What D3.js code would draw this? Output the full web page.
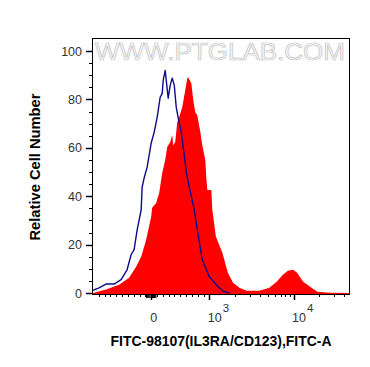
<!DOCTYPE html>
<html><head><meta charset="utf-8">
<script src="https://cdn.jsdelivr.net/npm/d3@7"></script>
<style>body{margin:0;background:#fff}svg{display:block}</style>
</head><body>
<svg id="c" width="370" height="367"></svg>
<script>
// ---- data ----
const controlFluor = [-1000,-897,-776,-638,-517,-414,-345,-293,-241,-172,-155,-121,-69,0,52,103,155,190,207,241,259,293,328,362,397,431,466,517,569,603,655,741,793,879,1000,1212,1428,1729];
const controlCount = [1.1,2.1,3.7,3.7,5.5,9.6,15.8,17.9,26.1,34.3,43.8,47.5,52,61.9,66.5,72.6,80.9,82.5,87.9,92.0,87.9,80.5,85.9,88.8,85.9,76.8,72.3,66.5,57.0,50,43.8,34.3,26.1,13.7,6.7,3.4,0.9,0];
const sampleFluor = [-1000,-776,-552,-379,-259,-172,-86,0,17,86,138,172,190,241,276,328,362,379,414,448,483,534,586,621,638,690,724,759,793,845,879,931,948,966,1056,1086,1198,1428,1660,1910,2276,2757,3929,5166,6301,7459,8578,9862,11023,12985,15753,19124,27330,45500];
const sampleCount = [0,1.4,3.4,6.3,10.8,15.0,22.0,31.5,35.2,37.2,41.3,46.7,49.6,54.9,60.3,62.4,65.3,61.1,62.4,70.6,72.7,76.8,83.8,88.7,89.1,86.7,79.7,74.7,73.5,66.5,61.1,54.9,47.5,42.6,42.6,34.3,23.2,16.6,8.4,4.2,2.2,0.9,0.9,2.2,4.7,7.5,9.2,9.6,8.4,4.7,2.6,0.5,0.1,0];
const yTickValues = [0,20,40,60,80,100];
const yMinorValues = d3.range(0, 105, 5);
const xMajorValues = [0, 1000, 10000];
const xMajorBase = ["0", "10", "10"];
const xMajorExp = ["", "3", "4"];
const xMinorValues = [-900,-800,-700,-600,-500,-400,-300,-200,-100,100,200,300,400,500,600,700,800,900,2000,3000,4000,5000,6000,7000,8000,9000,20000,30000,40000];
const xZeroCluster = [-80,-60,-40,-20,20,40,60,80];
const xDomain = [-1000, 45500];
const yDomain = [0, 100];
const xTitle = "FITC-98107(IL3RA/CD123),FITC-A";
const yTitle = "Relative Cell Number";
const watermark = "WWW.PTGLAB.COM";

// ---- layout ----
const L = 93, T = 39, R = 349, B = 294;
const font = "'Liberation Sans', Arial, sans-serif";
const svg = d3.select("#c");

// biexponential-like transform: linear within ±1000, logarithmic above
const LIN = 1000, DEC = 84/58;
const fwd = v => v <= LIN ? v / LIN : 1 + Math.log10(v / LIN) * DEC;
const xLin = d3.scaleLinear().domain(xDomain.map(fwd)).range([L, R]);
const x = v => xLin(fwd(v));
const y = d3.scaleLinear().domain(yDomain).range([293, 51]);

svg.append("defs").append("clipPath").attr("id","clip")
  .append("rect").attr("x",L).attr("y",T).attr("width",R-L).attr("height",B-T);

// watermark
svg.append("text").attr("x", 95).attr("y", 60)
  .attr("textLength", 250).attr("lengthAdjust","spacingAndGlyphs")
  .style("font-family", font).style("font-size","24px")
  .attr("fill","#f7f7f7").attr("stroke","#c4c4c4").attr("stroke-width",0.7)
  .text(watermark);

const g = svg.append("g").attr("clip-path","url(#clip)");
const sample = sampleFluor.map((f,i)=>({f, c: sampleCount[i]}));
const control = controlFluor.map((f,i)=>({f, c: controlCount[i]}));

g.append("path").datum(sample)
  .attr("d", d3.area().x(d=>x(d.f)).y0(y(0)+1).y1(d=>y(d.c)))
  .attr("fill","#ff0000");
g.append("path").datum(control)
  .attr("d", d3.line().x(d=>x(d.f)).y(d=>y(d.c)))
  .attr("fill","none").attr("stroke","#0c0c8a").attr("stroke-width",1.4)
  .attr("stroke-linejoin","round");

// frame
svg.append("rect").attr("x",L-0.5).attr("y",T-0.5).attr("width",R-L+1).attr("height",B-T+1)
  .attr("fill","none").attr("stroke","#000").attr("stroke-width",1);

// y axis
const yAxis = svg.append("g");
yAxis.selectAll("line.mi").data(yMinorValues).join("line")
  .attr("x1",L-4).attr("x2",L).attr("y1",d=>Math.round(y(d))+0.5).attr("y2",d=>Math.round(y(d))+0.5)
  .attr("stroke","#000");
yAxis.selectAll("line.ma").data(yTickValues).join("line")
  .attr("x1",L-7).attr("x2",L).attr("y1",d=>Math.round(y(d))+0.5).attr("y2",d=>Math.round(y(d))+0.5)
  .attr("stroke","#000").attr("stroke-width",1.5);
yAxis.selectAll("text").data(yTickValues).join("text")
  .attr("x", 82).attr("y", d=>y(d)).attr("dy","0.36em")
  .attr("text-anchor","end").style("font-family",font).style("font-size","12.5px")
  .attr("fill","#333").text(d=>d);

// x axis
const xAxis = svg.append("g");
xAxis.selectAll("line.mi").data(xMinorValues).join("line")
  .attr("x1",d=>Math.round(x(d))+0.5).attr("x2",d=>Math.round(x(d))+0.5)
  .attr("y1",B).attr("y2",B+3).attr("stroke","#000");
xAxis.selectAll("line.zc").data(xZeroCluster).join("line")
  .attr("x1",d=>x(d)).attr("x2",d=>x(d))
  .attr("y1",B).attr("y2",B+4).attr("stroke","#000").attr("stroke-width",1.2);
xAxis.selectAll("line.ma").data(xMajorValues).join("line")
  .attr("x1",d=>Math.round(x(d))+0.5).attr("x2",d=>Math.round(x(d))+0.5)
  .attr("y1",B).attr("y2",B+6).attr("stroke","#000").attr("stroke-width",1.5);
xMajorValues.forEach((v,i)=>{
  const t = svg.append("text").attr("y", 322).style("font-family",font).style("font-size","12.5px").attr("fill","#333");
  if (xMajorExp[i] === "") {
    t.attr("x", x(v)+2.5).attr("text-anchor","middle").text(xMajorBase[i]);
  } else {
    t.attr("x", x(v)-1.5).attr("text-anchor","start");
    t.append("tspan").text(xMajorBase[i]);
    t.append("tspan").attr("dy",-10).attr("dx",1).style("font-size","11.5px").text(xMajorExp[i]);
  }
});

// titles
svg.append("text").attr("x", 221).attr("y", 346).attr("text-anchor","middle")
  .attr("textLength",221).attr("lengthAdjust","spacingAndGlyphs")
  .style("font-family",font).style("font-size","14px").style("font-weight","bold")
  .text(xTitle);
svg.append("text").attr("transform","translate(40,167) rotate(-90)").attr("text-anchor","middle")
  .attr("textLength",147).attr("lengthAdjust","spacingAndGlyphs")
  .style("font-family",font).style("font-size","14.5px").style("font-weight","bold")
  .text(yTitle);
</script>
</body></html>
